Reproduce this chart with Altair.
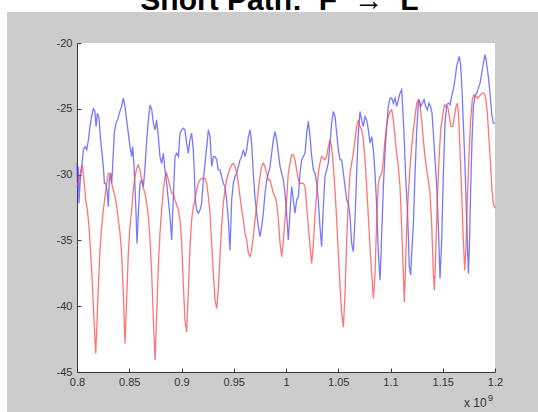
import altair as alt
import pandas as pd

# ---------------- data (x in units of 1e9) ----------------
blue_x = [0.8000, 0.8006, 0.8013, 0.8019, 0.8029, 0.8045, 0.8061, 0.8077, 0.8093, 0.8109,
          0.8124, 0.8140, 0.8156, 0.8172, 0.8182, 0.8195, 0.8211, 0.8223, 0.8236, 0.8252,
          0.8262, 0.8274, 0.8287, 0.8300, 0.8309, 0.8322, 0.8332, 0.8341, 0.8357, 0.8373,
          0.8389, 0.8405, 0.8427, 0.8443, 0.8459, 0.8475, 0.8491, 0.8507, 0.8523, 0.8533,
          0.8546, 0.8555, 0.8565, 0.8574, 0.8587, 0.8603, 0.8619, 0.8635, 0.8651, 0.8667,
          0.8683, 0.8699, 0.8715, 0.8731, 0.8747, 0.8762, 0.8778, 0.8794, 0.8810, 0.8826,
          0.8842, 0.8858, 0.8874, 0.8890, 0.8906, 0.8922, 0.8938, 0.8954, 0.8970, 0.8986,
          0.9002, 0.9017, 0.9033, 0.9049, 0.9065, 0.9081, 0.9097, 0.9113, 0.9123, 0.9132,
          0.9145, 0.9161, 0.9177, 0.9193, 0.9209, 0.9225, 0.9241, 0.9257, 0.9273, 0.9289,
          0.9305, 0.9321, 0.9337, 0.9352, 0.9368, 0.9384, 0.9400, 0.9416, 0.9432, 0.9448,
          0.9464, 0.9480, 0.9496, 0.9512, 0.9528, 0.9544, 0.9560, 0.9576, 0.9592, 0.9608,
          0.9624, 0.9640, 0.9656, 0.9671, 0.9687, 0.9703, 0.9719, 0.9735, 0.9751, 0.9767,
          0.9783, 0.9799, 0.9815, 0.9831, 0.9847, 0.9863, 0.9879, 0.9895, 0.9911, 0.9927,
          0.9943, 0.9959, 0.9975,
          0.9990, 1.0006, 1.0022, 1.0038, 1.0054, 1.0070, 1.0086, 1.0102, 1.0118, 1.0134,
          1.0150, 1.0166, 1.0182, 1.0198, 1.0214, 1.0230, 1.0246, 1.0262, 1.0278, 1.0294,
          1.0309, 1.0325, 1.0341, 1.0357, 1.0373, 1.0389, 1.0405, 1.0421, 1.0437, 1.0453,
          1.0469, 1.0485, 1.0501, 1.0517, 1.0533, 1.0549, 1.0565, 1.0581, 1.0597, 1.0613,
          1.0628, 1.0644, 1.0660, 1.0676, 1.0692, 1.0708, 1.0724, 1.0740, 1.0756, 1.0772,
          1.0788, 1.0804, 1.0820, 1.0836, 1.0852, 1.0868, 1.0884, 1.0900, 1.0916, 1.0932,
          1.0947, 1.0963, 1.0979, 1.0995,
          1.1011, 1.1027, 1.1043, 1.1059, 1.1075, 1.1091, 1.1107, 1.1116, 1.1129, 1.1139,
          1.1148, 1.1161, 1.1171, 1.1180, 1.1193, 1.1203, 1.1219, 1.1235, 1.1251, 1.1266,
          1.1276, 1.1289, 1.1305, 1.1321, 1.1337, 1.1353, 1.1369, 1.1384, 1.1397, 1.1410,
          1.1426, 1.1442, 1.1458, 1.1474, 1.1490, 1.1506, 1.1522, 1.1538, 1.1554, 1.1570,
          1.1585, 1.1601, 1.1617, 1.1633, 1.1649, 1.1659, 1.1672, 1.1684, 1.1697, 1.1713,
          1.1729, 1.1745, 1.1755, 1.1767, 1.1780, 1.1793, 1.1809, 1.1825, 1.1841, 1.1857,
          1.1873, 1.1889, 1.1905, 1.1920, 1.1936, 1.1952, 1.1968, 1.1984, 1.2000]
blue_y = [-29.14, -31.17, -29.39, -32.18, -30.66, -29.39, -28.12, -27.87, -28.12, -27.36,
          -26.35, -25.58, -25.00, -25.20, -26.35, -25.33, -25.71, -27.11, -28.12, -29.39,
          -30.66, -30.66, -31.17, -32.44, -30.41, -29.90, -30.66, -29.39, -26.85, -26.09,
          -25.84, -25.33, -24.82, -24.19, -24.82, -25.84, -26.85, -27.87, -28.63, -27.87,
          -29.39, -30.91, -32.94, -35.23, -32.94, -30.66, -30.41, -30.91, -29.39, -27.36,
          -25.84, -24.70, -25.08, -26.09, -26.60, -25.84, -27.11, -28.63, -29.14, -28.38,
          -29.64, -30.66, -31.93, -33.20, -34.97, -31.68, -28.63, -28.38, -28.63, -26.85,
          -26.60, -26.47, -26.60, -27.61, -28.38, -27.36, -26.85, -28.12, -29.90, -31.93,
          -32.69, -32.94, -32.69, -32.18, -30.41, -29.14, -27.87, -26.60, -27.11, -29.39,
          -28.63, -28.63, -28.88, -29.64, -29.64, -30.15, -30.66, -30.91, -31.93, -33.45,
          -35.74, -31.93, -30.66, -30.15, -29.90, -29.39, -28.88, -28.63, -28.12, -28.63,
          -28.12, -27.11, -26.60, -27.61, -29.90, -31.68, -32.94, -33.96, -34.72, -33.96,
          -32.94, -31.42, -30.41, -29.90, -29.39, -28.38, -27.36, -26.73, -27.36, -28.38,
          -29.39, -29.90, -30.41,
          -31.42, -32.94, -34.97, -32.94, -30.91, -31.93, -32.94, -31.93, -31.68, -29.90,
          -28.88, -28.63, -28.38, -26.85, -25.96, -27.11, -28.63, -29.64, -29.90, -30.66,
          -31.93, -33.96, -35.48, -32.44, -30.15, -29.64, -29.14, -27.61, -26.09, -25.20,
          -25.58, -26.85, -28.12, -28.88, -28.88, -29.90, -30.91, -31.93, -32.18, -33.20,
          -35.23, -35.86, -33.45, -29.90, -26.85, -25.20, -25.84, -26.35, -25.58, -25.84,
          -26.60, -27.61, -27.11, -28.12, -29.90, -32.44, -35.99, -38.02, -34.47, -30.91,
          -28.38, -26.35, -24.82, -24.19,
          -24.19, -24.57, -24.19, -24.82, -24.31, -23.81, -23.55, -24.82, -26.85, -28.88,
          -30.66, -32.44, -34.72, -37.01, -37.64, -35.99, -33.71, -29.90, -26.60, -24.57,
          -24.31, -24.82, -24.57, -24.31, -24.82, -25.08, -24.57, -24.82, -25.33, -26.85,
          -28.88, -30.91, -33.96, -37.89, -34.97, -29.90, -26.09, -24.70, -24.57, -24.70,
          -24.06, -23.55, -22.79, -21.78, -21.27, -21.02, -21.78, -23.55, -26.09, -29.39,
          -33.45, -37.51, -35.48, -31.17, -27.36, -24.82, -24.06, -23.81, -23.43, -23.05,
          -22.28, -21.52, -20.89, -21.52, -22.54, -23.81, -25.33, -26.09, -26.09]

red_x = [0.8000, 0.8019, 0.8038, 0.8051, 0.8067, 0.8083, 0.8099, 0.8115, 0.8131, 0.8147,
         0.8163, 0.8179, 0.8191, 0.8204, 0.8220, 0.8236, 0.8252, 0.8268, 0.8284, 0.8300,
         0.8316, 0.8332, 0.8348, 0.8364, 0.8380, 0.8396, 0.8412, 0.8427, 0.8443, 0.8459,
         0.8475, 0.8491, 0.8507, 0.8523, 0.8539, 0.8555, 0.8571, 0.8587, 0.8603, 0.8619,
         0.8635, 0.8651, 0.8667, 0.8683, 0.8699, 0.8715, 0.8731, 0.8747, 0.8762, 0.8778,
         0.8794, 0.8810, 0.8826, 0.8842, 0.8858, 0.8874, 0.8890, 0.8906, 0.8922, 0.8938,
         0.8970,
         0.8986, 0.9002, 0.9017, 0.9033, 0.9049, 0.9065, 0.9081, 0.9097, 0.9113, 0.9129,
         0.9145, 0.9161, 0.9177, 0.9193, 0.9209, 0.9225, 0.9241, 0.9257, 0.9273, 0.9289,
         0.9305, 0.9321, 0.9337, 0.9352, 0.9368, 0.9384, 0.9400, 0.9416, 0.9432, 0.9448,
         0.9464, 0.9480, 0.9496, 0.9512, 0.9528, 0.9544, 0.9560, 0.9576, 0.9592, 0.9608,
         0.9624, 0.9640, 0.9656, 0.9671, 0.9687, 0.9703, 0.9719, 0.9735, 0.9751, 0.9767,
         0.9783, 0.9799, 0.9815, 0.9831, 0.9847, 0.9863, 0.9879, 0.9895, 0.9911, 0.9927,
         0.9943, 0.9959, 0.9975, 0.9990,
         1.0006, 1.0022, 1.0038, 1.0054, 1.0070, 1.0086, 1.0102, 1.0118, 1.0134, 1.0150,
         1.0166, 1.0182, 1.0198, 1.0214, 1.0230, 1.0246, 1.0262, 1.0278, 1.0294, 1.0309,
         1.0325, 1.0341, 1.0357, 1.0373, 1.0389, 1.0405, 1.0421, 1.0437, 1.0453, 1.0469,
         1.0485, 1.0501, 1.0517, 1.0533, 1.0549, 1.0565, 1.0581, 1.0597, 1.0613, 1.0628,
         1.0644, 1.0660, 1.0676, 1.0692, 1.0708, 1.0724, 1.0740, 1.0756, 1.0772, 1.0788,
         1.0804, 1.0820, 1.0836, 1.0852, 1.0868, 1.0884, 1.0900, 1.0916, 1.0932, 1.0947,
         1.0963, 1.0979, 1.0995,
         1.1011, 1.1027, 1.1043, 1.1059, 1.1075, 1.1091, 1.1107, 1.1123, 1.1132, 1.1142,
         1.1155, 1.1171, 1.1187, 1.1203, 1.1219, 1.1235, 1.1251, 1.1266, 1.1282, 1.1298,
         1.1314, 1.1330, 1.1346, 1.1362, 1.1378, 1.1394, 1.1410, 1.1420, 1.1432, 1.1448,
         1.1464, 1.1480, 1.1499, 1.1515, 1.1531, 1.1547, 1.1563, 1.1579, 1.1595, 1.1611,
         1.1627, 1.1640, 1.1652, 1.1665, 1.1681, 1.1697, 1.1710, 1.1723, 1.1735, 1.1751,
         1.1767, 1.1783, 1.1799, 1.1815, 1.1831, 1.1847, 1.1863, 1.1879, 1.1895, 1.1911,
         1.1927, 1.1943, 1.1959, 1.1971, 1.1984, 1.2000]
red_y = [-30.91, -30.41, -29.64, -29.26, -30.41, -31.93, -32.69, -33.96, -35.99, -38.27,
         -41.07, -43.60, -41.32, -38.53, -35.74, -33.96, -32.69, -31.68, -30.66, -29.90,
         -29.90, -30.66, -31.17, -31.68, -32.44, -33.45, -34.47, -35.99, -39.04, -42.84,
         -39.54, -35.99, -33.96, -32.69, -31.17, -30.15, -29.52, -29.26, -29.64, -30.41,
         -31.04, -31.42, -32.18, -33.20, -34.97, -37.51, -41.07, -44.11, -40.81, -37.01,
         -34.47, -32.69, -31.17, -30.15, -29.90, -30.41, -30.91, -31.42, -31.42, -31.93,
         -32.69,
         -33.45, -35.23, -38.27, -41.07, -41.95, -39.04, -35.48, -33.45, -32.44, -31.93,
         -31.17, -30.66, -30.41, -30.28, -30.28, -30.28, -30.66, -31.68, -32.94, -35.23,
         -37.51, -39.54, -40.18, -38.78, -36.24, -33.96, -32.18, -31.17, -30.41, -29.90,
         -29.52, -29.26, -29.14, -29.39, -29.90, -30.66, -31.68, -32.69, -33.45, -34.47,
         -34.97, -35.99, -36.24, -35.74, -34.72, -33.45, -32.44, -31.17, -30.15, -29.39,
         -29.14, -29.39, -29.90, -30.41, -30.41, -30.91, -31.42, -31.68, -32.18, -33.45,
         -35.23, -36.24, -34.97, -33.45,
         -31.93, -29.90, -29.14, -28.50, -28.50, -28.88, -29.64, -30.41, -30.66, -30.66,
         -30.66, -30.91, -32.44, -33.96, -35.48, -36.75, -35.23, -32.94, -31.42, -29.90,
         -29.14, -28.63, -28.76, -28.88, -28.63, -27.87, -27.36, -27.87, -29.39, -31.17,
         -33.45, -35.99, -38.53, -40.56, -41.57, -39.04, -34.97, -31.93, -29.90, -29.14,
         -28.38, -27.36, -26.35, -25.84, -26.35, -26.60, -27.36, -28.88, -30.91, -33.20,
         -35.48, -37.51, -39.42, -37.51, -33.45, -30.66, -30.15, -29.90, -28.88, -27.36,
         -26.35, -25.58, -25.20,
         -25.08, -25.84, -27.11, -28.38, -29.39, -30.91, -33.96, -37.51, -39.67, -37.51,
         -33.96, -31.42, -29.39, -27.87, -26.60, -25.58, -24.57, -24.31, -24.82, -25.84,
         -27.36, -28.63, -29.64, -30.41, -31.42, -33.71, -37.51, -38.78, -36.24, -31.93,
         -28.88, -26.60, -25.58, -24.70, -24.82, -24.82, -25.58, -26.35, -26.35, -25.58,
         -24.82, -24.57, -25.58, -28.12, -31.42, -34.97, -37.26, -35.48, -31.93, -28.63,
         -25.84, -24.31, -23.93, -24.06, -24.19, -24.06, -23.93, -23.81, -23.81, -24.19,
         -25.33, -27.36, -29.39, -31.17, -32.18, -32.56]

x_ticks = [0.8, 0.85, 0.9, 0.95, 1, 1.05, 1.1, 1.15, 1.2]
y_ticks = [-45, -40, -35, -30, -25, -20]

title_text = "Short Path:\u00a0\u00a0F\u00a0\u00a0\u2192\u00a0\u00a0L"
exponent_base = "x 10"
exponent_power = "9"

# ---------------- layout ----------------
W, H = 418, 329
PAD_L, PAD_T, PAD_R, PAD_B = 77, 43, 43, 40
FONT = "Liberation Sans"
AX = "#3a3a3a"
LBL = "#333333"

blue_df = pd.DataFrame({"x": blue_x, "y": blue_y})
red_df = pd.DataFrame({"x": red_x, "y": red_y})
one = pd.DataFrame({"k": [0]})

xs = alt.Scale(domain=[0.8, 1.2], nice=False, zero=False)
ys = alt.Scale(domain=[-45, -20], nice=False, zero=False)

x_axis = alt.Axis(values=x_ticks, labelExpr="'' + datum.value", ticks=False,
                  domainColor=AX, domainWidth=1, labelColor=LBL, labelFont=FONT,
                  labelFontSize=11, labelPadding=4, grid=False, title=None,
                  labelFlush=False, labelOverlap=False)
y_axis = alt.Axis(values=y_ticks, labelExpr="'' + datum.value", ticks=False,
                  domainColor=AX, domainWidth=1, labelColor=LBL, labelFont=FONT,
                  labelFontSize=11, labelPadding=5, grid=False, title=None,
                  labelFlush=False, labelOverlap=False)

blue = alt.Chart(blue_df).mark_line(color="#4444ff", strokeWidth=1.3, opacity=0.72).encode(
    x=alt.X("x:Q", scale=xs, axis=x_axis),
    y=alt.Y("y:Q", scale=ys, axis=y_axis),
)
red = alt.Chart(red_df).mark_line(color="#ff4040", strokeWidth=1.3, opacity=0.72).encode(
    x=alt.X("x:Q", scale=xs, axis=None),
    y=alt.Y("y:Q", scale=ys, axis=None),
)
# inward-pointing ticks (MATLAB style)
ticks = alt.Chart(blue_df).mark_point(opacity=0).encode(
    x=alt.X("x:Q", scale=xs, axis=alt.Axis(orient="top", offset=-H, values=x_ticks,
                                           labels=False, domain=False, tickSize=4,
                                           tickColor=AX, grid=False, title=None)),
    y=alt.Y("y:Q", scale=ys, axis=alt.Axis(orient="right", offset=-W, values=y_ticks,
                                           labels=False, domain=False, tickSize=4,
                                           tickColor=AX, grid=False, title=None)),
)

white_top = alt.Chart(one).mark_rect(color="white").encode(
    x=alt.value(-PAD_L), x2=alt.value(W + PAD_R), y=alt.value(-PAD_T), y2=alt.value(12 - PAD_T))
white_left = alt.Chart(one).mark_rect(color="white").encode(
    x=alt.value(-PAD_L), x2=alt.value(7 - PAD_L), y=alt.value(-PAD_T), y2=alt.value(H + PAD_B))

title = alt.Chart(one).mark_text(font=FONT, fontSize=30, fontWeight="bold", color="black",
                                 align="center", baseline="alphabetic").encode(
    x=alt.value(279.5 - PAD_L), y=alt.value(9.5 - PAD_T), text=alt.value(title_text))

exp_base = alt.Chart(one).mark_text(font=FONT, fontSize=12, color=LBL, align="left",
                                    baseline="alphabetic").encode(
    x=alt.value(464 - PAD_L), y=alt.value(407 - PAD_T), text=alt.value(exponent_base))
exp_pow = alt.Chart(one).mark_text(font=FONT, fontSize=9, color=LBL, align="left",
                                   baseline="alphabetic").encode(
    x=alt.value(488 - PAD_L), y=alt.value(401 - PAD_T), text=alt.value(exponent_power))

chart = alt.layer(white_top, white_left, blue, red, ticks, title, exp_base, exp_pow).resolve_axis(
    x="independent", y="independent"
).properties(
    width=W, height=H,
    autosize=alt.AutoSizeParams(type="none"),
    padding={"left": PAD_L, "top": PAD_T, "right": PAD_R, "bottom": PAD_B},
    background="#cccccc",
).configure_view(fill="white", stroke=None)

chart.save("out.html", embed_options={"renderer": "svg", "actions": False})
